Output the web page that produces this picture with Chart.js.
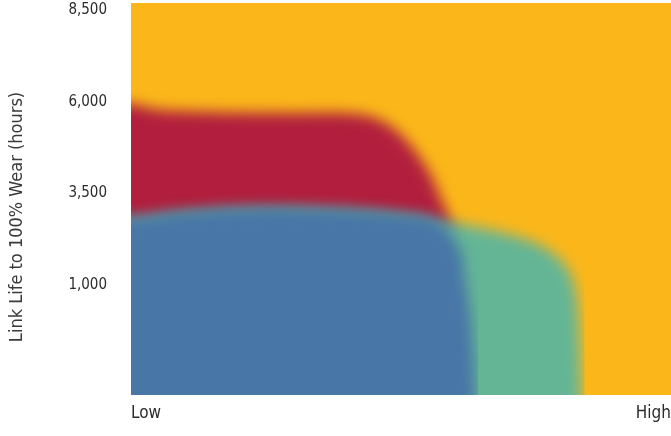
<!DOCTYPE html>
<html>
<head>
<meta charset="utf-8">
<script src="https://cdn.jsdelivr.net/npm/chart.js@4.4.1/dist/chart.umd.min.js"></script>
<style>
  html, body { margin: 0; padding: 0; background: #fff; }
  #wrap { width: 671px; height: 436px; }
</style>
</head>
<body>
<div id="wrap"><canvas id="wearChart" width="671" height="436"></canvas></div>
<script>
// axis ticks
const yTicks = [1000, 3500, 6000, 8500];
const xTickLabels = ['Low', 'High'];

// wear zones: x is 0 (Low) .. 100 (High), y is link life in hours
const highZoneX = [-20, 120];
const highZoneY = [12000, 12000];

const redZoneX = [-10, 0, 5, 17, 31, 42, 47, 51, 55, 57.5, 59.4, 61, 62];
const redZoneY = [5950, 5940, 5790, 5720, 5700, 5670, 5440, 4950, 4140, 3320, 2640, 1680, -5000];

const greenZoneX = [-10, 0, 9, 22, 37, 50, 59, 69, 74.5, 78, 80.8, 82.3, 83, 83.4, 84];
const greenZoneY = [2830, 2830, 2990, 3100, 3070, 2940, 2720, 2420, 2170, 1880, 1440, 860, -230, -2000, -5000];

const blueZoneX = [-10, 0, 9, 22, 37, 50, 56.5, 60.8, 62, 63, 63.8, 64.3];
const blueZoneY = [2830, 2830, 2990, 3100, 3070, 2940, 2760, 2000, 1000, 0, -2000, -5000];

const zoneColors = {
  high: '#FBB71A',
  red: '#B21F3E',
  green: '#64B596',
  blue: '#4876A7'
};

function zone(xs, ys, color) {
  return {
    data: xs.map((x, i) => ({ x: x, y: ys[i] })),
    backgroundColor: color,
    borderWidth: 0,
    pointRadius: 0,
    tension: 0.35,
    fill: { value: -6000 }
  };
}

// soft edges between the zones
const blurZones = {
  id: 'blurZones',
  beforeDatasetsDraw(chart) {
    chart.ctx.save();
    chart.ctx.filter = 'blur(7px)';
  },
  afterDatasetsDraw(chart) {
    chart.ctx.restore();
  }
};

const font = "'DejaVu Sans Condensed', 'Roboto', sans-serif";

new Chart(document.getElementById('wearChart'), {
  type: 'line',
  data: {
    datasets: [
      zone(blueZoneX, blueZoneY, zoneColors.blue),
      zone(greenZoneX, greenZoneY, zoneColors.green),
      zone(redZoneX, redZoneY, zoneColors.red),
      zone(highZoneX, highZoneY, zoneColors.high)
    ]
  },
  options: {
    responsive: false,
    animation: false,
    layout: { padding: { left: 0, top: 3, right: 0, bottom: 0 } },
    plugins: { legend: { display: false }, tooltip: { enabled: false } },
    scales: {
      x: {
        type: 'linear',
        min: 0,
        max: 100,
        grid: { display: false, drawTicks: false },
        border: { display: false },
        afterBuildTicks: (axis) => { axis.ticks = [{ value: 0 }, { value: 100 }]; },
        afterFit: (axis) => { axis.height = 41; axis.paddingLeft = 0; axis.paddingRight = 0; },
        ticks: {
          align: 'inner',
          maxRotation: 0,
          padding: 8,
          color: '#2b2b2b',
          font: { family: font, size: 17 },
          callback: (v) => (v === 0 ? xTickLabels[0] : xTickLabels[1])
        }
      },
      y: {
        type: 'linear',
        min: -2000,
        max: 8700,
        grid: { display: false, drawTicks: false },
        border: { display: false },
        afterBuildTicks: (axis) => { axis.ticks = yTicks.map((v) => ({ value: v })); },
        afterFit: (axis) => { axis.width = 131; axis.paddingTop = 0; axis.paddingBottom = 0; },
        ticks: {
          padding: 24,
          color: '#2b2b2b',
          font: { family: font, size: 15 },
          callback: (v) => Number(v).toLocaleString('en-US')
        },
        title: {
          display: true,
          // trailing spaces push the title a little below the axis centre, as in the original
          text: 'Link Life to 100% Wear (hours)\u00a0\u00a0\u00a0\u00a0\u00a0\u00a0\u00a0',
          color: '#3a3a3a',
          font: { family: font, size: 18 },
          padding: { top: 7, bottom: 0 }
        }
      }
    }
  },
  plugins: [blurZones]
});
</script>
</body>
</html>
